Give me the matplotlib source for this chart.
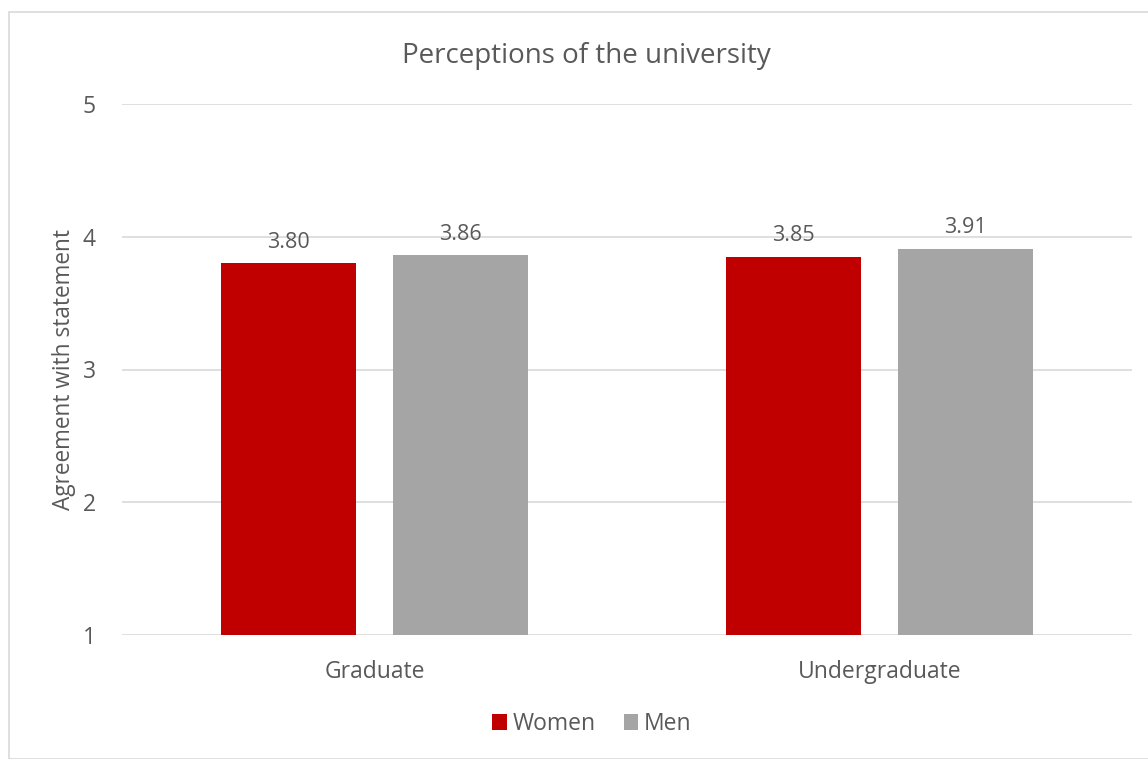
import matplotlib
matplotlib.use("Agg")
import matplotlib.pyplot as plt
from matplotlib.patches import Rectangle
import numpy as np

categories = ["Graduate", "Undergraduate"]
series_names = ["Women", "Men"]
women = [3.80, 3.85]
men = [3.86, 3.91]
colors = ["#C00000", "#A5A5A5"]
yticks = [1, 2, 3, 4, 5]

plt.rcParams['font.family'] = ['Open Sans', 'DejaVu Sans']
txt = "#595959"
W, H = 1148, 759
fig = plt.figure(figsize=(W/100, H/100), dpi=100)
fig.patches.append(Rectangle((9/W, 0), 1.2, 1 - 12/H, transform=fig.transFigure,
                             fill=False, edgecolor="#D9D9D9", lw=1.2, figure=fig))
ax = fig.add_axes([122/W, 1 - 635/H, (1132-122)/W, (635-104)/H])

x = np.arange(len(categories))
width = 0.266
offset = 0.17
for vals, name, col, sgn in [(women, series_names[0], colors[0], -1), (men, series_names[1], colors[1], 1)]:
    heights = [v - 1 for v in vals]
    bars = ax.bar(x + sgn*offset, heights, width, bottom=1, color=col, label=name, zorder=3)
    for b, v in zip(bars, vals):
        ax.text(b.get_x() + b.get_width()/2, v + 0.08, f"{v:.2f}", ha="center", va="bottom",
                fontsize=15.5, color=txt)

ax.set_xlim(-0.5, 1.5)
ax.set_ylim(1, 5)
ax.set_yticks(yticks)
ax.set_xticks(x)
ax.set_xticklabels(categories)
ax.tick_params(axis="both", length=0, labelsize=16.5, labelcolor=txt)
ax.tick_params(axis="x", pad=18)
ax.tick_params(axis="y", pad=19)
ax.yaxis.grid(True, color="#D9D9D9", lw=1.2, zorder=0)
for s in ax.spines.values():
    s.set_visible(False)
ax.set_ylabel("Agreement with statement", fontsize=16.3, color=txt, labelpad=5)
fig.text(586/W, 1 - 56/H, "Perceptions of the university", ha="center", va="center",
         fontsize=20, color=txt)
leg = fig.legend(loc="center", bbox_to_anchor=(592/W, 1 - 724/H), ncol=2, frameon=False,
                 fontsize=16.5, handlelength=0.65, handleheight=0.65, handletextpad=0.25,
                 columnspacing=1.2)
for t in leg.get_texts():
    t.set_color(txt)
fig.savefig("out.png", dpi=100)
